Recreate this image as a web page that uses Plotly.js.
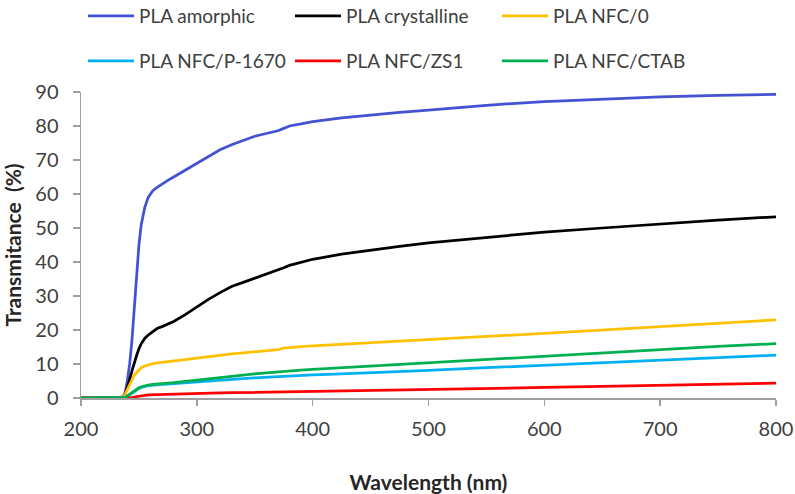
<!DOCTYPE html>
<html>
<head>
<meta charset="utf-8">
<script src="https://cdn.plot.ly/plotly-3.0.1.min.js"></script>
<style>html,body{margin:0;padding:0;background:#fff;}#chart{width:795px;height:494px;}</style>
</head>
<body>
<div id="chart"></div>
<script>
const wavelength = [200, 230, 236, 238, 240, 242, 244, 246, 248, 250, 252, 255, 258, 262, 266, 270, 275, 280, 290, 300, 310, 320, 330, 340, 350, 360, 370, 375, 380, 390, 400, 425, 450, 475, 500, 550, 600, 650, 700, 750, 800];

const plaAmorphic   = [0, 0, 0.3, 1.5, 5, 10, 17, 26, 36, 45, 51, 56, 59, 61, 62, 63, 64, 65, 67, 69, 71, 73, 74.5, 75.8, 77, 77.8, 78.6, 79.3, 80, 80.6, 81.3, 82.4, 83.3, 84, 84.7, 86.1, 87.2, 88, 88.6, 89, 89.3];
const plaCrystalline= [0, 0, 0.2, 1, 3, 5.5, 8, 10.5, 12.5, 14.5, 16, 17.5, 18.5, 19.5, 20.5, 21, 21.8, 22.5, 24.5, 26.8, 29, 31, 32.8, 34, 35.2, 36.3, 37.5, 38.3, 39, 40, 40.8, 42.3, 43.5, 44.6, 45.6, 47.3, 48.8, 50, 51.2, 52.3, 53.3];
const plaNfc0       = [0, 0, 0.3, 1, 2.5, 4, 5.5, 6.7, 7.5, 8.3, 8.9, 9.4, 9.8, 10.1, 10.3, 10.5, 10.7, 10.9, 11.3, 11.7, 12.2, 12.6, 13, 13.3, 13.6, 13.9, 14.2, 14.7, 14.9, 15.1, 15.3, 15.8, 16.3, 16.7, 17.1, 18.1, 19, 20, 21, 22, 23];
const plaNfcP1670   = [0, 0, 0, 0.1, 0.4, 0.9, 1.4, 1.9, 2.4, 2.8, 3.1, 3.4, 3.6, 3.8, 3.9, 4.0, 4.1, 4.3, 4.6, 4.9, 5.1, 5.3, 5.5, 5.7, 5.9, 6.1, 6.3, 6.4, 6.5, 6.6, 6.8, 7.1, 7.4, 7.8, 8.1, 8.9, 9.6, 10.4, 11.1, 11.9, 12.6];
const plaNfcZS1     = [0, 0, 0, 0, 0, 0, 0.1, 0.3, 0.45, 0.6, 0.7, 0.8, 0.9, 0.95, 1.0, 1.05, 1.1, 1.15, 1.2, 1.3, 1.4, 1.5, 1.55, 1.6, 1.7, 1.75, 1.8, 1.85, 1.9, 1.95, 2.0, 2.15, 2.3, 2.4, 2.5, 2.8, 3.1, 3.4, 3.7, 4.05, 4.4];
const plaNfcCTAB    = [0, 0, 0, 0.2, 0.6, 1.1, 1.7, 2.2, 2.7, 3.0, 3.3, 3.6, 3.8, 4.0, 4.1, 4.2, 4.3, 4.5, 4.9, 5.3, 5.7, 6.1, 6.5, 6.8, 7.1, 7.4, 7.7, 7.9, 8.0, 8.2, 8.4, 8.9, 9.4, 9.9, 10.3, 11.3, 12.3, 13.3, 14.3, 15.2, 16.0];

const seriesNames = ["PLA amorphic", "PLA crystalline", "PLA NFC/0", "PLA NFC/P-1670", "PLA NFC/ZS1", "PLA NFC/CTAB"];
const seriesValues = [plaAmorphic, plaCrystalline, plaNfc0, plaNfcP1670, plaNfcZS1, plaNfcCTAB];
const seriesColors = ["#4352d3", "#000000", "#ffc000", "#00b0f0", "#ff0000", "#00b050"];
const seriesLegend = ["legend", "legend", "legend", "legend2", "legend2", "legend2"];

const xTicks = [200, 300, 400, 500, 600, 700, 800];
const yTicks = [0, 10, 20, 30, 40, 50, 60, 70, 80, 90];

const FONT = "Lato, 'Open Sans', sans-serif";

const traces = seriesNames.map((name, i) => ({
  type: "scatter",
  mode: "lines",
  name: name,
  x: wavelength,
  y: seriesValues[i],
  line: {color: seriesColors[i], width: 2.75},
  legend: seriesLegend[i],
  hoverinfo: "skip"
}));

const legendBase = {
  orientation: "h",
  xref: "container",
  yref: "container",
  x: 83 / 795,
  xanchor: "left",
  yanchor: "middle",
  itemwidth: 46,
  entrywidth: 146,
  entrywidthmode: "pixels",
  font: {family: FONT, size: 19, color: "#404040"},
  bgcolor: "rgba(0,0,0,0)",
  borderwidth: 0,
  traceorder: "normal"
};

const layout = {
  width: 795,
  height: 494,
  margin: {l: 81, r: 19, t: 92, b: 96},
  paper_bgcolor: "#ffffff",
  plot_bgcolor: "#ffffff",
  font: {family: FONT, size: 20, color: "#404040"},
  showlegend: true,
  legend: Object.assign({}, legendBase, {y: 1 - 16 / 494}),
  legend2: Object.assign({}, legendBase, {y: 1 - 61 / 494}),
  xaxis: {
    range: [200, 800],
    tickvals: xTicks,
    ticktext: xTicks.map(String),
    showgrid: false,
    zeroline: false,
    showline: true,
    linecolor: "#a0a0a0",
    linewidth: 1.5,
    ticks: "outside",
    ticklen: 6,
    tickcolor: "#a0a0a0",
    tickwidth: 1.5,
    ticklabelstandoff: 6,
    tickfont: {family: FONT, size: 20, color: "#404040"},
    title: {text: "<b>Wavelength (nm)</b>", font: {family: FONT, size: 21, color: "#262626"}, standoff: 38}
  },
  yaxis: {
    range: [0, 90],
    tickvals: yTicks,
    ticktext: yTicks.map(String),
    showgrid: false,
    zeroline: false,
    showline: true,
    linecolor: "#a0a0a0",
    linewidth: 1.5,
    ticks: "outside",
    ticklen: 7,
    tickcolor: "#a0a0a0",
    tickwidth: 1.5,
    ticklabelstandoff: 10,
    tickfont: {family: FONT, size: 20, color: "#404040"},
    title: {text: "<b>Transmitance  (%)</b>", font: {family: FONT, size: 21, color: "#262626"}, standoff: 10}
  }
};

Plotly.newPlot("chart", traces, layout, {staticPlot: true, displayModeBar: false});
</script>
</body>
</html>
